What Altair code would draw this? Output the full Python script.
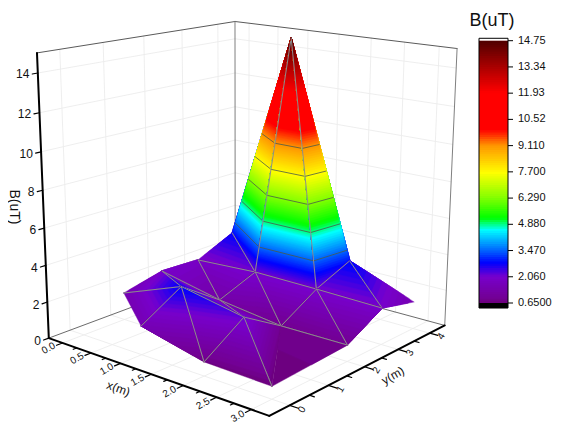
import numpy as np
import altair as alt

# surface values (x, y lattice and height B)
NAMES = ["A","B","C","D","E","F","G","H","I","J","K","L","M","N","O","P","Q","T"]
X_VAL = [0, 1, 2, 3, 1, 0, 0, 1, 2, 1, 0, 2, 3, 3, 3, 2, 2, 1]
Y_VAL = [1, 0, 0, 0, 1, 2, 3, 2, 1, 3, 4, 2, 2, 3, 4, 4, 3, 4]
Z_VAL = [1.52, 1.55, 0.74, 0.65, 2.85, 2.0, 1.9, 1.29, 2.2, 2.1, 2.82, 0.85, 0.88, 2.0, 1.5, 2.9, 2.07, 14.75]
TRIS = ["ABE","BCE","CIE","CDI","DLI","DML","AEF","EHF","EIH","ILH","FHG","GHJ","HLJ","GJK","KJT","JQT","JLQ","LMQ","QMN","QNP","TQP","PNO"]
HIDDEN_EDGES = ["DL"]

# axes
X_RANGE = [-0.25, 3.25]
Y_RANGE = [-0.5, 4.5]
Z_RANGE = [0, 15]
X_MAJOR = [0, 0.5, 1, 1.5, 2, 2.5, 3]
X_LABELS = ["0.0", "0.5", "1.0", "1.5", "2.0", "2.5", "3.0"]
X_MINOR = [0.25, 0.75, 1.25, 1.75, 2.25, 2.75]
Y_MAJOR = [0, 1, 2, 3, 4]
Y_MINOR = [0.5, 1.5, 2.5, 3.5]
Z_MAJOR = [0, 2, 4, 6, 8, 10, 12, 14]

# colour bar
BAR_TICKS = [14.75, 13.34, 11.93, 10.52, 9.11, 7.70, 6.29, 4.88, 3.47, 2.06, 0.65]
BAR_LABELS = ["14.75", "13.34", "11.93", "10.52", "9.110", "7.700", "6.290", "4.880", "3.470", "2.060", "0.6500"]
CONTOURS = [3.47, 4.88, 6.29, 7.70, 9.11]
STOP_Z = [0.65, 0.9, 2.06, 2.8, 3.47, 4.58, 5.22, 6.29, 7.65, 9.11, 9.96, 11.95, 13.34, 14.75]
STOP_R = [108, 115, 120, 0, 0, 0, 0, 130, 255, 255, 255, 255, 170, 80]
STOP_G = [0, 0, 0, 0, 100, 255, 255, 255, 255, 150, 0, 0, 0, 0]
STOP_B = [122, 148, 205, 255, 255, 255, 0, 0, 0, 0, 0, 0, 0, 0]
N_BANDS = 120

# camera
CAM = np.array([[52.58213, 44.56917, -0.92663, 83.90987],
                [6.65619, -5.18287, -19.08944, 334.89242],
                [-0.03704, 0.03206, -0.00387, 1.0]])
PAGE = 8


def proj(x, y, z):
    h = CAM @ np.array([x, y, z, 1.0])
    return [float(h[0] / h[2] - PAGE), float(h[1] / h[2] - PAGE)]


def hexcol(z):
    return "#%02x%02x%02x" % (int(np.interp(z, STOP_Z, STOP_R)), int(np.interp(z, STOP_Z, STOP_G)), int(np.interp(z, STOP_Z, STOP_B)))


def feat(kind, coords, fill, stroke, sw):
    return {"type": "Feature", "geometry": {"type": kind, "coordinates": coords},
            "properties": {"fill": fill, "stroke": stroke, "sw": sw}}


def line(a, b, stroke, sw):
    return feat("LineString", [proj(*a), proj(*b)], "transparent", stroke, sw)


V = {n: np.array([x, y, z], float) for n, x, y, z in zip(NAMES, X_VAL, Y_VAL, Z_VAL)}


def clip_above(poly, level):
    out = []
    for i in range(len(poly)):
        a, b = poly[i], poly[(i + 1) % len(poly)]
        da, db = a[2] - level, b[2] - level
        if da >= 0:
            out.append(a)
        if (da >= 0) != (db >= 0):
            out.append(a + (b - a) * da / (da - db))
    return out


def crossing(tri, level):
    pts = []
    for i in range(3):
        a, b = tri[i], tri[(i + 1) % 3]
        if (a[2] - level) * (b[2] - level) < 0:
            pts.append(a + (b - a) * (level - a[2]) / (b[2] - a[2]))
    return pts


edge_count = {}
for t in TRIS:
    for i in range(3):
        k = "".join(sorted((t[i], t[(i + 1) % 3])))
        edge_count[k] = edge_count.get(k, 0) + 1


def depth(t):
    c = sum(V[n] for n in t) / 3
    return -(CAM[2, 0] * c[0] + CAM[2, 1] * c[1])


edges_bands = np.linspace(STOP_Z[0], STOP_Z[-1], N_BANDS + 1)
surface = []
for t in sorted(TRIS, key=depth):
    tri = [V[n] for n in t]
    zmin, zmax = min(p[2] for p in tri), max(p[2] for p in tri)
    for lo, hi in zip(edges_bands[:-1], edges_bands[1:]):
        if hi < zmin or lo > zmax:
            continue
        # each band paints everything above it, so the next one leaves no seam
        poly = clip_above(tri, lo)
        if len(poly) < 3:
            continue
        ring = [proj(*p) for p in poly]
        col = hexcol((lo + hi) / 2)
        surface.append(feat("Polygon", [ring + [ring[0]]], col, col, 0.4))
    for lev in CONTOURS:
        seg = crossing(tri, lev)
        if len(seg) == 2:
            surface.append(feat("LineString", [proj(*seg[0]), proj(*seg[1])], "transparent", "#4a5a4a", 0.8))
    for i in range(3):
        k = "".join(sorted((t[i], t[(i + 1) % 3])))
        if edge_count[k] == 2 and k not in HIDDEN_EDGES:
            surface.append(feat("LineString", [proj(*V[t[i]]), proj(*V[t[(i + 1) % 3]])], "transparent", "#8c8c8c", 1.0))

xa, xb = X_RANGE
ya, yb = Y_RANGE
z0, z1 = Z_RANGE
GRID = "#ececec"
back = []
for x in X_MAJOR:
    back.append(line((x, ya, 0), (x, yb, 0), GRID, 0.9))
    back.append(line((x, yb, 0), (x, yb, z1), GRID, 0.9))
for y in Y_MAJOR:
    back.append(line((xa, y, 0), (xb, y, 0), GRID, 0.9))
    back.append(line((xa, y, 0), (xa, y, z1), GRID, 0.9))
for z in Z_MAJOR[1:]:
    back.append(line((xa, ya, z), (xa, yb, z), GRID, 0.9))
    back.append(line((xa, yb, z), (xb, yb, z), GRID, 0.9))
EDGE = "#5a5a5a"
back.append(line((xa, ya, z1), (xa, yb, z1), EDGE, 1))
back.append(line((xa, yb, z1), (xb, yb, z1), EDGE, 1))
back.append(line((xa, yb, 0), (xa, yb, z1), "#808080", 1))
back.append(line((xb, yb, 0), (xb, yb, z1), "#808080", 1))
back.append(line((xa, ya, 0), (xa, yb, 0), EDGE, 0.9))
back.append(line((xa, yb, 0), (xb, yb, 0), EDGE, 0.9))

front = [line((xa, ya, 0), (xb, ya, 0), "#000000", 2),
         line((xb, ya, 0), (xb, yb, 0), "#000000", 2),
         line((xa, ya, 0), (xa, ya, z1), "#000000", 2)]
for x in X_MAJOR:
    front.append(line((x, ya, 0), (x, ya - 0.14, 0), "#000000", 1.2))
for x in X_MINOR:
    front.append(line((x, ya, 0), (x, ya - 0.08, 0), "#000000", 1.2))
for y in Y_MAJOR:
    front.append(line((xb, y, 0), (xb + 0.12, y, 0), "#000000", 1.2))
for y in Y_MINOR:
    front.append(line((xb, y, 0), (xb + 0.07, y, 0), "#000000", 1.2))
for z in Z_MAJOR:
    front.append(line((xa, ya, z), (xa, ya - 0.12, z), "#000000", 1.2))


def shapes(features):
    return alt.Chart(alt.Data(values=features)).mark_geoshape(strokeCap="round").encode(
        color=alt.Color("properties.fill:N", scale=None, legend=None),
        stroke=alt.Stroke("properties.stroke:N", scale=None, legend=None),
        strokeWidth=alt.StrokeWidth("properties.sw:Q", scale=None, legend=None),
    ).project(type="identity", scale=1, translate=[0, 0])


def texts(rows, **mark):
    return alt.Chart(alt.Data(values=rows)).mark_text(font="Liberation Sans", color="#111111", **mark).encode(
        x=alt.X("px:Q", scale=None, axis=None),
        y=alt.Y("py:Q", scale=None, axis=None),
        text="t:N",
    )


def label(point, t):
    p = proj(*point)
    return {"px": p[0], "py": p[1], "t": t}


x_rows = [label((x, ya - 0.32, 0), t) for x, t in zip(X_MAJOR, X_LABELS)]
y_rows = [label((xb + 0.17, y, 0), str(y)) for y in Y_MAJOR]
z_rows = [label((xa, ya - 0.18, z), str(z)) for z in Z_MAJOR]

x_text = texts(x_rows, fontSize=10, angle=330, align="center", baseline="middle")
y_text = texts(y_rows, fontSize=10, angle=300, align="center", baseline="middle")
z_text = texts(z_rows, fontSize=12, align="right", baseline="middle")
x_title = texts([label((1.5, ya - 0.75, 0), "x(m)")], fontSize=12, angle=20, align="center", baseline="middle")
y_title = texts([label((xb + 0.4, 2.0, 0), "y(m)")], fontSize=12, angle=330, align="center", baseline="middle")
z_title = texts([{"px": 6, "py": 199, "t": "B(uT)"}], fontSize=14, angle=90, align="center", baseline="middle")
bar_title = texts([{"px": 484, "py": 13, "t": "B(uT)"}], fontSize=18, align="center", baseline="middle")

# colour bar through its own linear scale
BAR_SCALE = alt.Scale(domain=[0.65, 14.75], range=[295, 32.7])
BAR_Y = alt.Y("lo:Q", scale=BAR_SCALE, axis=None)
rows = [{"lo": 0.38, "hi": 0.65, "c": "#000000"}]
rows += [{"lo": float(a), "hi": 14.75, "c": hexcol((a + b) / 2)} for a, b in zip(edges_bands[:-1], edges_bands[1:])]
rows.append({"lo": 14.75, "hi": 14.88, "c": "#ffffff"})
bar = alt.Chart(alt.Data(values=rows)).mark_rect().encode(
    x=alt.value(471), x2=alt.value(500), y=BAR_Y, y2="hi:Q",
    color=alt.Color("c:N", scale=None, legend=None),
)
frame = alt.Chart(alt.Data(values=[{"lo": 0.38, "hi": 14.88}])).mark_rect(fill="transparent", stroke="#000000", strokeWidth=1).encode(
    x=alt.value(471), x2=alt.value(500), y=BAR_Y, y2="hi:Q",
)
tick_rows = [{"lo": v, "t": t} for v, t in zip(BAR_TICKS, BAR_LABELS)]
bar_ticks = alt.Chart(alt.Data(values=tick_rows)).mark_rule(color="#000000", strokeWidth=1).encode(
    x=alt.value(500), x2=alt.value(505), y=BAR_Y,
)
bar_text = alt.Chart(alt.Data(values=tick_rows)).mark_text(font="Liberation Sans", fontSize=11, align="left", baseline="middle", color="#111111").encode(
    x=alt.value(510), y=BAR_Y, text="t:N",
)

chart = alt.layer(
    shapes(back), shapes(surface), shapes(front),
    x_text, y_text, z_text, x_title, y_title, z_title, bar_title,
    bar, frame, bar_ticks, bar_text,
).resolve_scale(y="independent", x="independent").properties(
    width=545, height=421, padding=0, autosize="none"
).configure_view(stroke=None)

chart.save("out.html", embed_options={"renderer": "svg", "actions": False})
